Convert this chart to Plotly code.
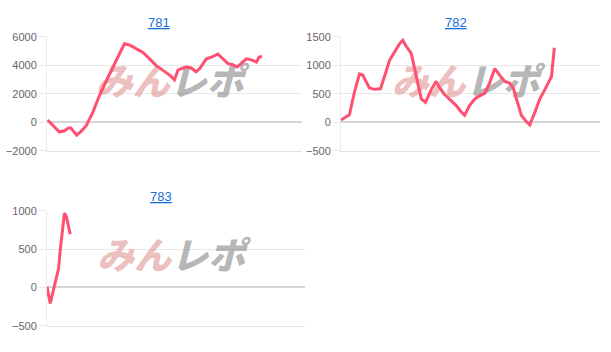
import plotly.graph_objects as go

titles = ["781", "782", "783"]

games_781 = [20, 180, 390, 550, 670, 750, 930, 1070, 1230, 1440, 1640, 1850, 2060, 2270, 2430,
             2590, 2740, 3010, 3220, 3420, 3630, 3840, 4000, 4110, 4210, 4370, 4520, 4680, 4790,
             5000, 5200, 5360, 5470, 5680, 5830, 5960, 6090, 6250, 6410, 6570, 6650, 6740]
diff_781 = [160, -180, -680, -590, -400, -400, -900, -630, -230, 720, 1850, 2870, 3890, 4800, 5520,
            5430, 5250, 4910, 4460, 4000, 3670, 3330, 2990, 3670, 3780, 3890, 3820, 3550, 3780,
            4460, 4620, 4800, 4570, 4120, 4050, 3890, 4120, 4460, 4390, 4230, 4570, 4640]

games_782 = [0, 100, 260, 410, 570, 670, 880, 1030, 1220, 1340, 1500, 1650, 1810, 1910, 2010, 2170,
             2320, 2480, 2610, 2790, 2940, 3050, 3200, 3360, 3560, 3720, 3820, 3970, 4130, 4280,
             4440, 4590, 4750, 4900, 5060, 5210, 5320, 5420, 5570, 5730, 5830, 5990, 6140, 6300,
             6450, 6500, 6590]
diff_782 = [40, 80, 135, 520, 850, 830, 605, 580, 590, 800, 1090, 1230, 1380, 1440, 1340, 1210,
            800, 410, 350, 580, 720, 605, 490, 410, 295, 180, 125, 295, 410, 465,
            510, 690, 945, 830, 720, 690, 605, 410, 125, 10, -45, 180, 410, 580,
            750, 800, 1310]

games_783 = [0, 50, 100, 160, 260, 360, 410, 490, 540, 600, 670, 720]
diff_783 = [10, -125, -210, -105, 60, 250, 485, 780, 970, 925, 800, 695]

y_ranges = [[-2000, 6000], [-500, 1500], [-500, 1000]]
y_ticks = [[-2000, 0, 2000, 4000, 6000], [-500, 0, 500, 1000, 1500], [-500, 0, 500, 1000]]
x_range = [0, 8000]

W, H = 611, 352
# pixel boxes: (left, right, top, bottom)
boxes = [(47, 302, 32, 150), (341, 600, 32, 150), (47, 305, 212, 331)]
title_pos = [(159, 17), (456, 17), (161, 197)]

series = [(games_781, diff_781), (games_782, diff_782), (games_783, diff_783)]

fig = go.Figure()
layout = dict(
    width=W, height=H, margin=dict(l=0, r=0, t=0, b=0),
    paper_bgcolor="white", plot_bgcolor="white", showlegend=False,
    font=dict(family="Liberation Sans, Arial, sans-serif", color="#666666", size=11),
)
annotations = []
watermark = ('<i><span style="color:rgba(225,150,150,0.6)">みん</span>'
             '<span style="color:rgba(140,140,140,0.65)">レポ</span></i>')

for i, ((xs, ys), (l, r, t, b)) in enumerate(zip(series, boxes)):
    n = "" if i == 0 else str(i + 1)
    xa, ya = "x" + n, "y" + n
    # watermark behind the line
    fig.add_trace(go.Scatter(
        x=[sum(x_range) / 2 - 150], y=[y_ranges[i][0] + (y_ranges[i][1] - y_ranges[i][0]) * 0.57],
        mode="text", text=[watermark],
        textfont=dict(size=37, family="Noto Sans CJK JP", weight=900),
        hoverinfo="skip", xaxis=xa, yaxis=ya))
    fig.add_trace(go.Scatter(
        x=xs, y=ys, mode="lines", line=dict(color="#ff5072", width=3),
        xaxis=xa, yaxis=ya))
    layout["xaxis" + n] = dict(
        domain=[l / W, r / W], range=x_range, showticklabels=False, showgrid=False,
        zeroline=False, showline=True, linecolor="#e3e3e3", linewidth=1,
        anchor=ya, fixedrange=True, mirror=False, side="bottom")
    layout["yaxis" + n] = dict(
        domain=[1 - b / H, 1 - t / H], range=y_ranges[i], tickvals=y_ticks[i],
        showgrid=True, gridcolor="#e8e8e8", gridwidth=1,
        zeroline=True, zerolinecolor="#d6d6d6", zerolinewidth=2,
        showline=True, linecolor="#ececec", linewidth=1,
        ticks="outside", ticklen=7, tickcolor="#e8e8e8",
        anchor=xa, tickfont=dict(size=11, color="#666666"))
    tx, ty = title_pos[i]
    annotations.append(dict(
        x=tx / W, y=1 - ty / H, xref="paper", yref="paper", showarrow=False,
        text="<u>" + titles[i] + "</u>", font=dict(size=13, color="#1a6fd6"),
        xanchor="center", yanchor="middle"))

layout["annotations"] = annotations
fig.update_layout(**layout)
fig.write_html("out.html")
